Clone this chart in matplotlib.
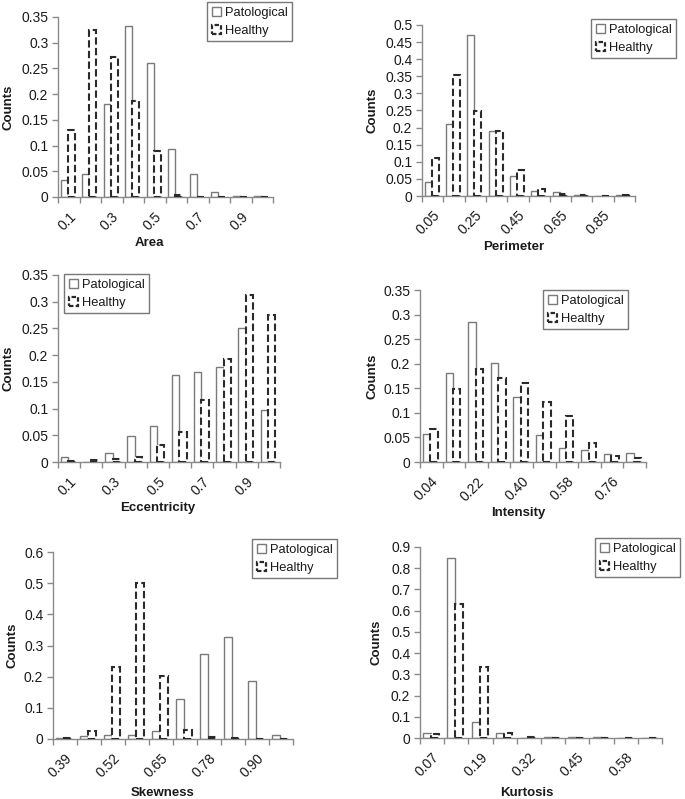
import numpy as np
import matplotlib
matplotlib.use("Agg")
import matplotlib.pyplot as plt
from matplotlib.patches import Rectangle
from matplotlib.ticker import FuncFormatter, MultipleLocator

# ------------------------------------------------------------
# Normalised histograms of six lesion features,
# pathological vs healthy (Excel-style clustered bars)
# ------------------------------------------------------------

W_PX, H_PX = 685, 799
DPI = 100

plt.rcParams["font.family"] = ["Liberation Sans", "DejaVu Sans"]

LABELS = ["Patological", "Healthy"]

# --- data ---
AREA_BINS = ["0.1", "0.2", "0.3", "0.4", "0.5", "0.6", "0.7", "0.8", "0.9", "1.0"]
AREA_PATO = [0.033, 0.045, 0.180, 0.332, 0.260, 0.093, 0.045, 0.010, 0.002, 0.002]
AREA_HEALTHY = [0.130, 0.325, 0.272, 0.186, 0.089, 0.003, 0.0, 0.0, 0.0, 0.0]

PERIM_BINS = ["0.05", "0.15", "0.25", "0.35", "0.45", "0.55", "0.65", "0.75", "0.85", "0.95"]
PERIM_PATO = [0.042, 0.210, 0.470, 0.190, 0.058, 0.016, 0.012, 0.002, 0.0, 0.002]
PERIM_HEALTHY = [0.110, 0.355, 0.250, 0.190, 0.075, 0.020, 0.006, 0.002, 0.0, 0.003]

ECC_BINS = ["0.1", "0.2", "0.3", "0.4", "0.5", "0.6", "0.7", "0.8", "0.9", "1.0"]
ECC_PATO = [0.009, 0.0, 0.016, 0.049, 0.068, 0.163, 0.168, 0.178, 0.250, 0.097]
ECC_HEALTHY = [0.002, 0.003, 0.005, 0.009, 0.031, 0.057, 0.116, 0.193, 0.312, 0.275]

INT_BINS = ["0.04", "0.13", "0.22", "0.31", "0.40", "0.49", "0.58", "0.67", "0.76", "0.85"]
INT_PATO = [0.057, 0.182, 0.285, 0.201, 0.133, 0.055, 0.029, 0.024, 0.016, 0.019]
INT_HEALTHY = [0.067, 0.148, 0.190, 0.170, 0.160, 0.122, 0.093, 0.038, 0.012, 0.008]

SKEW_BINS = ["0.39", "0.45", "0.52", "0.58", "0.65", "0.71", "0.78", "0.84", "0.90", "0.97"]
SKEW_PATO = [0.002, 0.010, 0.013, 0.013, 0.027, 0.128, 0.273, 0.327, 0.186, 0.013]
SKEW_HEALTHY = [0.003, 0.025, 0.230, 0.500, 0.203, 0.030, 0.006, 0.003, 0.0, 0.0]

KURT_BINS = ["0.07", "0.13", "0.19", "0.26", "0.32", "0.39", "0.45", "0.52", "0.58", "0.65"]
KURT_PATO = [0.022, 0.850, 0.077, 0.025, 0.002, 0.007, 0.004, 0.004, 0.0, 0.0]
KURT_HEALTHY = [0.018, 0.630, 0.333, 0.025, 0.003, 0.0, 0.0, 0.0, 0.002, 0.002]

# --- layout in pixels: plot area (x0, x1, ytop, ybottom), y range,
#     legend top-left, x title centre, y title x ---
PANELS = [
    dict(name="Area", bins=AREA_BINS, pato=AREA_PATO, healthy=AREA_HEALTHY,
         box=(58, 273, 17, 197), ymax=0.35, ystep=0.05,
         legend=(207, 2), xtitle=(149, 243), ytitle_x=9),
    dict(name="Perimeter", bins=PERIM_BINS, pato=PERIM_PATO, healthy=PERIM_HEALTHY,
         box=(422, 635, 25, 196), ymax=0.5, ystep=0.05,
         legend=(591, 19), xtitle=(514, 247), ytitle_x=373),
    dict(name="Eccentricity", bins=ECC_BINS, pato=ECC_PATO, healthy=ECC_HEALTHY,
         box=(58, 280, 275, 462), ymax=0.35, ystep=0.05,
         legend=(64, 274), xtitle=(158, 508), ytitle_x=9),
    dict(name="Intensity", bins=INT_BINS, pato=INT_PATO, healthy=INT_HEALTHY,
         box=(420, 646, 290, 462), ymax=0.35, ystep=0.05,
         legend=(543, 290), xtitle=(518, 513), ytitle_x=372),
    dict(name="Skewness", bins=SKEW_BINS, pato=SKEW_PATO, healthy=SKEW_HEALTHY,
         box=(53, 293, 552, 739), ymax=0.6, ystep=0.1,
         legend=(252, 539), xtitle=(163, 793), ytitle_x=12),
    dict(name="Kurtosis", bins=KURT_BINS, pato=KURT_PATO, healthy=KURT_HEALTHY,
         box=(420, 662, 547, 738), ymax=0.9, ystep=0.1,
         legend=(595, 538), xtitle=(527, 793), ytitle_x=377),
]

AXIS_GREY = "#8a8a8a"
TEXT_COLOR = "#1a1a1a"
PATO_EDGE = "#7a7a7a"
HEALTHY_EDGE = "#2a2a2a"
DASH = (0, (3.5, 1.6))
BAR_W = 0.33


def fx(px):
    return px / W_PX


def fy(py):
    return 1.0 - py / H_PX


def general_fmt(v, _pos):
    v = round(v, 4)
    if v == 0:
        return "0"
    return f"{v:g}"


def draw_panel(fig, p):
    x0, x1, yt, yb = p["box"]
    ax = fig.add_axes([fx(x0), fy(yb), fx(x1) - fx(x0), fy(yt) - fy(yb)])

    n = len(p["bins"])
    x = np.arange(n)
    ax.bar(x - BAR_W / 2 - 0.04, p["pato"], width=BAR_W, facecolor="white",
           edgecolor=PATO_EDGE, linewidth=1.0, zorder=2)
    ax.bar(x + BAR_W / 2 - 0.04, p["healthy"], width=BAR_W, facecolor="white",
           edgecolor=HEALTHY_EDGE, linewidth=1.5, linestyle=DASH, zorder=3)

    ax.set_xlim(-0.5, n - 0.5)
    ax.set_ylim(0, p["ymax"])

    # category boundaries as tick marks, every other category labelled
    ax.set_xticks(np.arange(n + 1) - 0.5)
    ax.set_xticklabels([])
    ax.set_xticks(x[::2], minor=True)
    ax.set_xticklabels(p["bins"][::2], minor=True, rotation=45, ha="right",
                       va="top", rotation_mode="anchor")
    ax.tick_params(axis="x", which="major", direction="out", length=4,
                   color=AXIS_GREY, width=1)
    ax.tick_params(axis="x", which="minor", length=0, pad=9,
                   labelsize=10, labelcolor=TEXT_COLOR)

    ax.yaxis.set_major_locator(MultipleLocator(p["ystep"]))
    ax.yaxis.set_major_formatter(FuncFormatter(general_fmt))
    ax.tick_params(axis="y", direction="out", length=4, color=AXIS_GREY,
                   width=1, labelsize=10, labelcolor=TEXT_COLOR, pad=3)

    for side in ("top", "right"):
        ax.spines[side].set_visible(False)
    for side in ("left", "bottom"):
        ax.spines[side].set_color(AXIS_GREY)
        ax.spines[side].set_linewidth(1.0)

    tx, ty = p["xtitle"]
    fig.text(fx(tx), fy(ty), p["name"], ha="center", va="center",
             fontsize=9.5, fontweight="bold", color=TEXT_COLOR)
    fig.text(fx(p["ytitle_x"]), fy((yt + yb) / 2), "Counts", ha="center",
             va="center", rotation=90, fontsize=9.5, fontweight="bold",
             color=TEXT_COLOR)

    handles = [
        Rectangle((0, 0), 1, 1, facecolor="white", edgecolor=PATO_EDGE, linewidth=1.0),
        Rectangle((0, 0), 1, 1, facecolor="white", edgecolor=HEALTHY_EDGE,
                  linewidth=1.6, linestyle=(0, (2.0, 1.0))),
    ]
    lx, ly = p["legend"]
    leg = fig.legend(handles, LABELS, loc="upper left",
                     bbox_to_anchor=(fx(lx), fy(ly)),
                     bbox_transform=fig.transFigure, borderaxespad=0,
                     fontsize=9.3, frameon=True, fancybox=False,
                     handlelength=0.75, handleheight=0.75, handletextpad=0.3,
                     labelspacing=0.45, borderpad=0.35)
    leg.get_frame().set_edgecolor("#555555")
    leg.get_frame().set_linewidth(1.0)
    for t in leg.get_texts():
        t.set_color(TEXT_COLOR)
    return ax


def main():
    fig = plt.figure(figsize=(W_PX / DPI, H_PX / DPI), dpi=DPI)
    for p in PANELS:
        draw_panel(fig, p)
    fig.savefig("out.png", dpi=DPI)
    plt.close(fig)


if __name__ == "__main__":
    main()
